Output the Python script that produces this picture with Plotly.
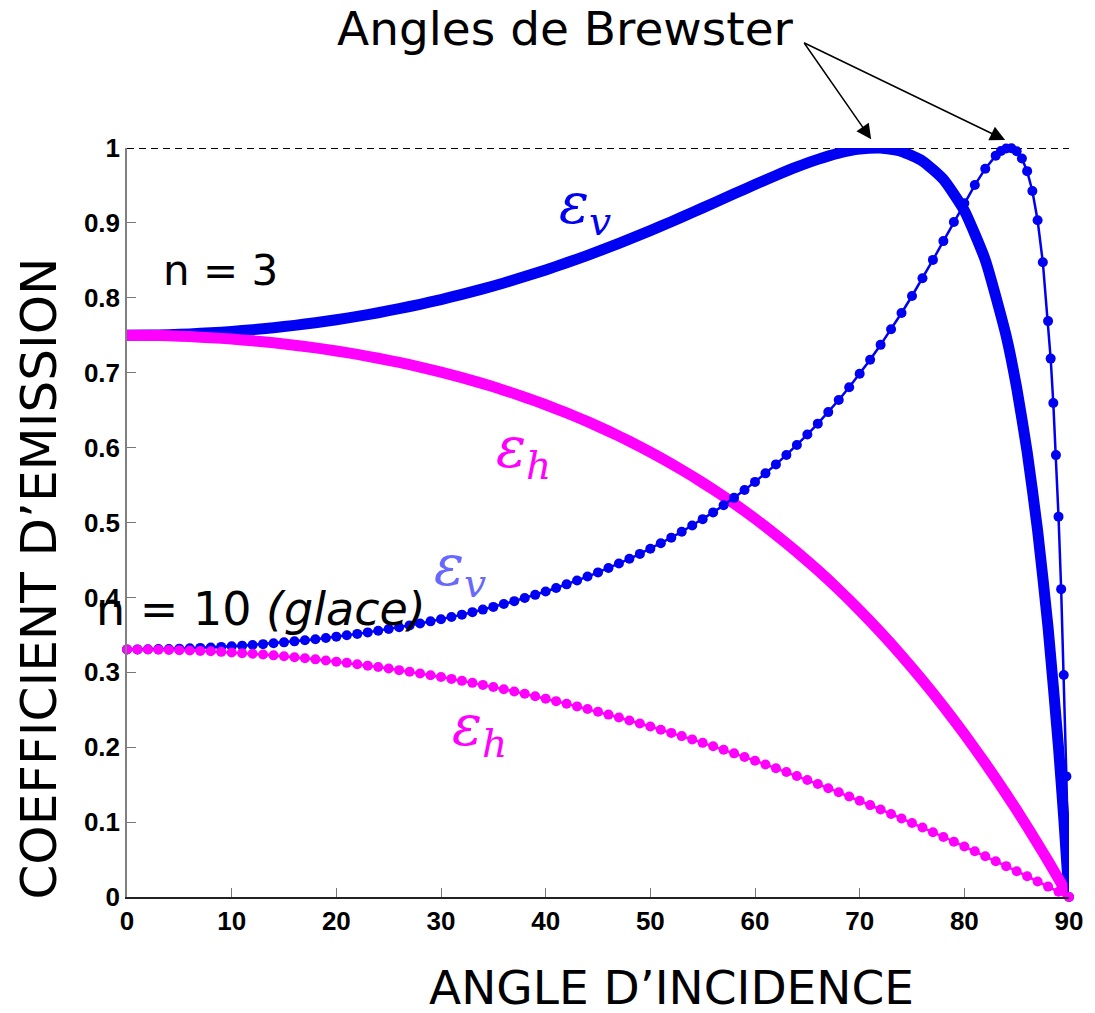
import plotly.graph_objects as go

# Emission coefficients of a flat dielectric surface versus incidence angle,
# for vertical (v) and horizontal (h) polarisation.

# n = 3
angle_n3 = [0, 2, 4, 6, 8, 10, 12, 14, 16, 18, 20, 22, 24, 26, 28, 30, 32, 34, 36, 38,
            40, 42, 44, 46, 48, 50, 52, 54, 56, 58, 60, 62, 64, 66, 68, 70, 72, 74, 76, 78,
            80, 82, 84, 85, 86, 87, 88, 89, 89.5, 90]
emis_v_n3 = [0.7500, 0.7502, 0.7508, 0.7518, 0.7533, 0.7551, 0.7574, 0.7600, 0.7632, 0.7667,
             0.7707, 0.7752, 0.7801, 0.7855, 0.7913, 0.7977, 0.8046, 0.8119, 0.8198, 0.8283,
             0.8372, 0.8467, 0.8567, 0.8672, 0.8783, 0.8897, 0.9016, 0.9138, 0.9263, 0.9388,
             0.9513, 0.9633, 0.9747, 0.9848, 0.9931, 0.9985, 0.9999, 0.9954, 0.9826, 0.9580,
             0.9164, 0.8505, 0.7489, 0.6798, 0.5945, 0.4895, 0.3598, 0.1994, 0.1052, 0.0]
emis_h_n3 = [0.7500, 0.7498, 0.7492, 0.7482, 0.7467, 0.7449, 0.7426, 0.7399, 0.7367, 0.7331,
             0.7290, 0.7244, 0.7193, 0.7137, 0.7075, 0.7007, 0.6934, 0.6854, 0.6767, 0.6673,
             0.6572, 0.6463, 0.6346, 0.6220, 0.6085, 0.5940, 0.5785, 0.5619, 0.5442, 0.5253,
             0.5051, 0.4836, 0.4607, 0.4363, 0.4104, 0.3828, 0.3535, 0.3224, 0.2894, 0.2546,
             0.2176, 0.1786, 0.1374, 0.1160, 0.0939, 0.0713, 0.0482, 0.0244, 0.0123, 0.0]

# n = 10 (ice), vertical polarisation (finer steps near grazing incidence)
angle_n10_v = [0, 1, 2, 3, 4, 5, 6, 7, 8, 9, 10, 11, 12, 13, 14, 15, 16, 17, 18, 19,
               20, 21, 22, 23, 24, 25, 26, 27, 28, 29, 30, 31, 32, 33, 34, 35, 36, 37, 38, 39,
               40, 41, 42, 43, 44, 45, 46, 47, 48, 49, 50, 51, 52, 53, 54, 55, 56, 57, 58, 59,
               60, 61, 62, 63, 64, 65, 66, 67, 68, 69, 70, 71, 72, 73, 74, 75, 76, 77, 78, 79,
               80, 81, 82, 83, 83.5, 84, 84.5, 85, 85.5, 86, 86.5, 87, 87.5, 88, 88.25, 88.5,
               88.75, 89, 89.25, 89.5, 89.75, 90]
emis_v_n10 = [0.3306, 0.3306, 0.3307, 0.3310, 0.3312, 0.3316, 0.3321, 0.3326, 0.3332, 0.3339,
              0.3347, 0.3356, 0.3365, 0.3376, 0.3387, 0.3400, 0.3413, 0.3427, 0.3442, 0.3458,
              0.3476, 0.3494, 0.3513, 0.3533, 0.3555, 0.3577, 0.3601, 0.3626, 0.3652, 0.3680,
              0.3708, 0.3738, 0.3770, 0.3803, 0.3837, 0.3873, 0.3911, 0.3950, 0.3991, 0.4034,
              0.4079, 0.4126, 0.4174, 0.4225, 0.4278, 0.4334, 0.4392, 0.4452, 0.4515, 0.4581,
              0.4650, 0.4722, 0.4798, 0.4876, 0.4959, 0.5045, 0.5135, 0.5230, 0.5329, 0.5433,
              0.5542, 0.5656, 0.5776, 0.5902, 0.6034, 0.6174, 0.6320, 0.6474, 0.6636, 0.6806,
              0.6985, 0.7174, 0.7372, 0.7579, 0.7797, 0.8024, 0.8261, 0.8506, 0.8757, 0.9011,
              0.9263, 0.9505, 0.9724, 0.9898, 0.9959, 0.9994, 0.9997, 0.9956, 0.9860, 0.9691,
              0.9426, 0.9035, 0.8475, 0.7689, 0.7188, 0.6596, 0.5900, 0.5078, 0.4110, 0.2965,
              0.1610, 0.0]

# n = 10 (ice), horizontal polarisation
angle_n10_h = [0, 1, 2, 3, 4, 5, 6, 7, 8, 9, 10, 11, 12, 13, 14, 15, 16, 17, 18, 19,
               20, 21, 22, 23, 24, 25, 26, 27, 28, 29, 30, 31, 32, 33, 34, 35, 36, 37, 38, 39,
               40, 41, 42, 43, 44, 45, 46, 47, 48, 49, 50, 51, 52, 53, 54, 55, 56, 57, 58, 59,
               60, 61, 62, 63, 64, 65, 66, 67, 68, 69, 70, 71, 72, 73, 74, 75, 76, 77, 78, 79,
               80, 81, 82, 83, 84, 85, 86, 87, 88, 89, 90]
emis_h_n10 = [0.3306, 0.3305, 0.3304, 0.3302, 0.3299, 0.3296, 0.3291, 0.3286, 0.3280, 0.3273,
              0.3265, 0.3256, 0.3247, 0.3237, 0.3226, 0.3214, 0.3201, 0.3188, 0.3173, 0.3158,
              0.3142, 0.3126, 0.3108, 0.3089, 0.3070, 0.3050, 0.3029, 0.3007, 0.2985, 0.2961,
              0.2937, 0.2912, 0.2886, 0.2859, 0.2832, 0.2803, 0.2774, 0.2744, 0.2713, 0.2681,
              0.2648, 0.2615, 0.2581, 0.2545, 0.2509, 0.2473, 0.2435, 0.2396, 0.2357, 0.2317,
              0.2276, 0.2234, 0.2191, 0.2148, 0.2104, 0.2058, 0.2012, 0.1966, 0.1918, 0.1870,
              0.1820, 0.1770, 0.1719, 0.1668, 0.1615, 0.1562, 0.1508, 0.1453, 0.1398, 0.1342,
              0.1284, 0.1227, 0.1168, 0.1109, 0.1049, 0.0988, 0.0927, 0.0865, 0.0802, 0.0738,
              0.0674, 0.0610, 0.0544, 0.0478, 0.0412, 0.0344, 0.0277, 0.0208, 0.0139, 0.0070,
              0.0]

x_ticks = [0, 10, 20, 30, 40, 50, 60, 70, 80, 90]
y_ticks = [0, 0.1, 0.2, 0.3, 0.4, 0.5, 0.6, 0.7, 0.8, 0.9, 1]
y_tick_labels = ["0", "0.1", "0.2", "0.3", "0.4", "0.5", "0.6", "0.7", "0.8", "0.9", "1"]

BLUE = "#0000f2"
MAGENTA = "#ff00ff"
LIGHT_BLUE = "#6868ff"
SANS = "DejaVu Sans"
EPS_FONT = "DejaVu Serif"

fig = go.Figure()

# reference level: emissivity = 1
fig.add_trace(go.Scatter(x=[0, 90.6], y=[1, 1], mode="lines",
                         line=dict(color="black", width=2, dash="7px,5px"),
                         cliponaxis=False, hoverinfo="skip"))

# n = 3: thick continuous curves
fig.add_trace(go.Scatter(x=angle_n3, y=emis_v_n3, mode="lines",
                         line=dict(color=BLUE, width=11, shape="spline", smoothing=0.5),
                         cliponaxis=False, hoverinfo="skip"))
fig.add_trace(go.Scatter(x=angle_n3, y=emis_h_n3, mode="lines",
                         line=dict(color=MAGENTA, width=11, shape="spline", smoothing=0.5),
                         cliponaxis=False, hoverinfo="skip"))

# n = 10: dotted curves
fig.add_trace(go.Scatter(x=angle_n10_v, y=emis_v_n10, mode="lines+markers",
                         line=dict(color=BLUE, width=2.5),
                         marker=dict(color=BLUE, size=10, line=dict(width=0)),
                         cliponaxis=False, hoverinfo="skip"))
fig.add_trace(go.Scatter(x=angle_n10_h, y=emis_h_n10, mode="lines+markers",
                         line=dict(color=MAGENTA, width=2.5),
                         marker=dict(color=MAGENTA, size=10, line=dict(width=0)),
                         cliponaxis=False, hoverinfo="skip"))

annotations = []

# curve labels
def eps_label(x, y, sub, color):
    return dict(x=x, y=y, xref="x", yref="y", showarrow=False,
                text=f"<i>ε</i><sub><i>{sub}</i></sub>",
                font=dict(family=EPS_FONT, size=56, color=color),
                xanchor="center", yanchor="middle")

annotations.append(eps_label(43.8, 0.921, "v", BLUE))
annotations.append(eps_label(37.9, 0.595, "h", MAGENTA))
annotations.append(eps_label(31.8, 0.437, "v", LIGHT_BLUE))
annotations.append(eps_label(33.7, 0.223, "h", MAGENTA))

# refractive index labels
annotations.append(dict(x=8.97, y=0.836, xref="x", yref="y", showarrow=False,
                        text="n = 3", font=dict(family=SANS, size=42, color="black"),
                        xanchor="center", yanchor="middle"))
annotations.append(dict(x=12.76, y=0.384, xref="x", yref="y", showarrow=False,
                        text="n = 10 <i>(glace)</i>",
                        font=dict(family=SANS, size=46, color="black"),
                        xanchor="center", yanchor="middle"))

# Brewster angle callout
annotations.append(dict(x=0.4658, y=1.160, xref="paper", yref="paper", showarrow=False,
                        text="Angles de Brewster",
                        font=dict(family=SANS, size=47, color="black"),
                        xanchor="center", yanchor="middle"))
# arrow tips (paper coords) with tails offset in pixels toward the end of the callout
arrow_tips = [(0.790, 1.0116, -67.7, -97.3), (0.9322, 1.0107, -202.7, -98.0)]
for tx, ty, dx, dy in arrow_tips:
    annotations.append(dict(x=tx, y=ty, xref="paper", yref="paper",
                            ax=dx, ay=dy, text="", showarrow=True, arrowhead=2,
                            arrowsize=2, arrowwidth=1.5, arrowcolor="black", standoff=0))

# axis titles
annotations.append(dict(x=0.5785, y=-0.121, xref="paper", yref="paper", showarrow=False,
                        text="ANGLE D’INCIDENCE",
                        font=dict(family=SANS, size=47, color="black"),
                        xanchor="center", yanchor="middle"))
annotations.append(dict(x=-0.0938, y=0.4246, xref="paper", yref="paper", showarrow=False,
                        text="COEFFICIENT D’EMISSION", textangle=-90,
                        font=dict(family=SANS, size=50, color="black"),
                        xanchor="center", yanchor="middle"))

tick_font = dict(family="Liberation Sans", size=26, color="black", weight="bold")

fig.update_layout(
    width=1095, height=1013,
    margin=dict(l=127, r=19, t=148, b=116),
    paper_bgcolor="white", plot_bgcolor="white",
    showlegend=False,
    annotations=annotations,
    xaxis=dict(range=[0, 90], tickvals=x_ticks, ticks="inside", ticklen=9,
               tickcolor="#777777", tickwidth=1.2, showline=True, linecolor="#222222",
               linewidth=1.5, showgrid=False, zeroline=False, tickfont=tick_font),
    yaxis=dict(range=[0, 1], tickvals=y_ticks, ticktext=y_tick_labels, ticks="inside",
               ticklen=9, tickcolor="#777777", tickwidth=1.2, showline=True,
               linecolor="#808080", linewidth=1.5, showgrid=False, zeroline=False,
               tickfont=tick_font),
)

fig.write_html("out.html")
